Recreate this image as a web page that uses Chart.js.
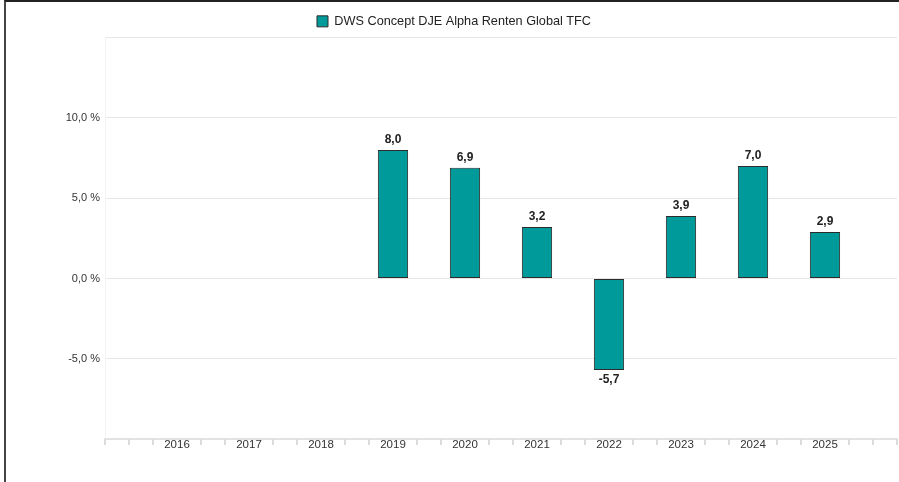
<!DOCTYPE html>
<html>
<head>
<meta charset="utf-8">
<script src="https://cdn.jsdelivr.net/npm/chart.js@4/dist/chart.umd.min.js"></script>
<style>
  html, body { margin: 0; padding: 0; background: #fff; }
  #frame {
    position: absolute; left: 4px; top: 0;
    width: 893px; height: 480px;
    border-left: 2px solid #444;
    border-top: 2px solid #222;
  }
  #chart { display: block; }
</style>
</head>
<body>
<div id="frame"><canvas id="chart" width="893" height="480"></canvas></div>
<script>
// data
const years = ["2016", "2017", "2018", "2019", "2020", "2021", "2022", "2023", "2024", "2025"];
const returns = [null, null, null, 8.0, 6.9, 3.2, -5.7, 3.9, 7.0, 2.9];
const seriesName = "DWS Concept DJE Alpha Renten Global TFC";
const yTicks = [-10, -5, 0, 5, 10, 15];
const shownTicks = [-5, 0, 5, 10];

const FONT = "'Liberation Sans', Arial, sans-serif";
const TEAL = "#009a9a";

// one empty slot before and after, like the original axis
const labels = [""].concat(years, [""]);
const values = [null].concat(returns, [null]);

const fmt = v => v.toFixed(1).replace(".", ",");

// small axis ticks, three per category, hidden under the year labels
const minorTicks = {
  id: "minorTicks",
  afterDraw(chart) {
    const x = chart.scales.x;
    const c = chart.ctx;
    const y0 = chart.chartArea.bottom;
    c.save();
    c.strokeStyle = "#dcdcdc";
    c.lineWidth = 2;
    for (let i = 0; i < labels.length; i++) {
      for (let k = 0; k < 3; k++) {
        if (k === 0 && labels[i] !== "") continue;
        if (i === labels.length - 1 && k > 0) continue;
        const px = Math.round(x.getPixelForValue(i + k / 3));
        c.beginPath();
        c.moveTo(px, y0);
        c.lineTo(px, y0 + 6);
        c.stroke();
      }
    }
    c.restore();
  }
};

// value labels above / below the bars
const barLabels = {
  id: "barLabels",
  afterDatasetsDraw(chart) {
    const c = chart.ctx;
    const meta = chart.getDatasetMeta(0);
    c.save();
    c.font = "bold 12px " + FONT;
    c.fillStyle = "#222";
    c.textAlign = "center";
    meta.data.forEach((bar, i) => {
      const v = values[i];
      if (v === null) return;
      if (v >= 0) {
        c.textBaseline = "bottom";
        c.fillText(fmt(v), bar.x, bar.y - 4);
      } else {
        c.textBaseline = "top";
        c.fillText(fmt(v), bar.x, bar.y + 4);
      }
    });
    c.restore();
  }
};

new Chart(document.getElementById("chart"), {
  type: "bar",
  data: {
    labels: labels,
    datasets: [{
      label: seriesName,
      data: values,
      backgroundColor: TEAL,
      borderColor: "#2b2b2b",
      borderWidth: 1,
      borderSkipped: false,
      barPercentage: 0.42,
      categoryPercentage: 1
    }]
  },
  options: {
    responsive: false,
    animation: false,
    layout: { padding: { top: 2, left: 5, right: 2, bottom: 0 } },
    plugins: {
      tooltip: { enabled: false },
      legend: {
        position: "top",
        labels: {
          boxWidth: 11,
          boxHeight: 11,
          padding: 11,
          color: "#222",
          font: { family: FONT, size: 12.7 }
        }
      }
    },
    scales: {
      x: {
        offset: false,
        afterFit(s) { s.height = 43; },
        grid: { display: true, drawOnChartArea: false, drawTicks: false },
        border: { color: "#e2e2e2", width: 2 },
        ticks: {
          color: "#333",
          padding: -1,
          maxRotation: 0,
          autoSkip: false,
          font: { family: FONT, size: 11.5 }
        }
      },
      y: {
        min: yTicks[0],
        max: yTicks[yTicks.length - 1],
        afterFit(s) { s.width = 94; },
        afterBuildTicks(s) { s.ticks = yTicks.map(v => ({ value: v })); },
        grid: { color: "#e6e6e6", drawTicks: false },
        border: { color: "#f2f2f2" },
        ticks: {
          color: "#333",
          padding: 5,
          font: { family: FONT, size: 11 },
          callback: v => shownTicks.includes(v) ? fmt(v) + " %" : ""
        }
      }
    }
  },
  plugins: [minorTicks, barLabels]
});
</script>
</body>
</html>
